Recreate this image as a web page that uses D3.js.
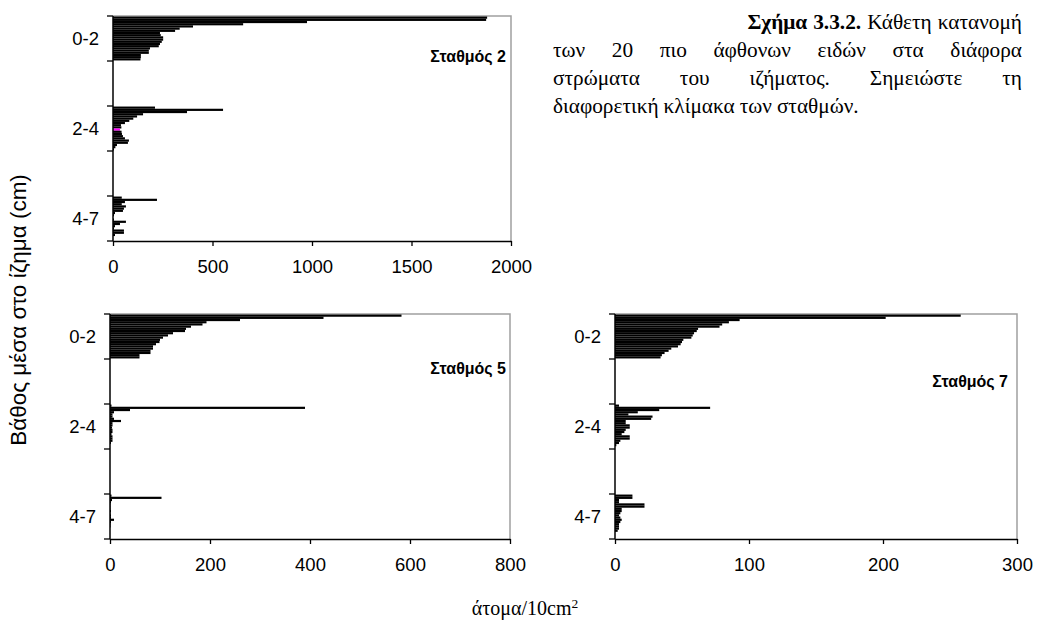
<!DOCTYPE html>
<html>
<head>
<meta charset="utf-8">
<script src="https://cdn.jsdelivr.net/npm/d3@7"></script>
<style>
  body { margin: 0; background: #fff; }
  svg { display: block; }
</style>
</head>
<body>
<svg id="chart" width="1037" height="624"></svg>
<script>
// Depth layers of the sediment (cm); empty slots separate the layers on the axis
const depthLabels = ["0-2", "2-4", "4-7"];
const depthSlots = ["0-2", "gapA", "2-4", "gapB", "4-7"];

// Abundance (individuals / 10 cm²) of the 20 most abundant species, same species order in every layer
// Σταθμός 2
const st2Layer02 = [1880, 1875, 975, 654, 402, 335, 312, 236, 240, 252, 252, 245, 236, 230, 186, 180, 180, 140, 140, 138];
const st2Layer24 = [211, 553, 372, 151, 121, 102, 82, 60, 40, 42, 35, 43, 45, 50, 60, 80, 75, 20, 12, 5];
const st2Layer47 = [44, 221, 60, 44, 65, 55, 50, 10, 5, 0, 5, 65, 35, 10, 5, 55, 55, 10, 0, 0];
const st2Ticks = [0, 500, 1000, 1500, 2000];

// Σταθμός 5
const st5Layer02 = [583, 427, 260, 193, 185, 162, 152, 150, 126, 116, 106, 100, 99, 92, 86, 86, 81, 81, 59, 59];
const st5Layer24 = [3, 390, 40, 8, 5, 5, 8, 22, 5, 5, 4, 5, 5, 3, 5, 5, 5, 2, 0, 0];
const st5Layer47 = [3, 103, 4, 2, 1, 1, 1, 2, 1, 2, 2, 8, 2, 1, 1, 0, 0, 0, 0, 0];
const st5Ticks = [0, 200, 400, 600, 800];

// Σταθμός 7
const st7Layer02 = [258, 202, 93, 85, 80, 78, 62, 61, 59, 58, 57, 51, 50, 49, 47, 42, 40, 37, 35, 34];
const st7Layer24 = [3, 71, 33, 17, 10, 28, 27, 8, 8, 11, 11, 8, 7, 5, 11, 11, 4, 3, 1, 0];
const st7Layer47 = [13, 13, 3, 3, 22, 22, 5, 5, 4, 3, 4, 5, 4, 3, 3, 3, 2, 0, 0, 0];
const st7Ticks = [0, 100, 200, 300];

const speciesIndex = d3.range(20);

const svg = d3.select("#chart");
const sans = "Arial, 'Liberation Sans', sans-serif";
const serif = "'Times New Roman', 'Liberation Serif', serif";

const panels = [
  { title: "Σταθμός 2", layers: [st2Layer02, st2Layer24, st2Layer47], ticks: st2Ticks,
    box: { x0: 113, x1: 511, y0: 16, y1: 241 }, titlePos: { x: 506, y: 62 },
    accent: { layer: 1, species: 10 } },
  { title: "Σταθμός 5", layers: [st5Layer02, st5Layer24, st5Layer47], ticks: st5Ticks,
    box: { x0: 110, x1: 510, y0: 314, y1: 539 }, titlePos: { x: 506, y: 374 } },
  { title: "Σταθμός 7", layers: [st7Layer02, st7Layer24, st7Layer47], ticks: st7Ticks,
    box: { x0: 615, x1: 1017, y0: 314, y1: 539 }, titlePos: { x: 1008, y: 387 } }
];

panels.forEach(p => {
  const g = svg.append("g");
  const x = d3.scaleLinear()
    .domain([0, d3.max(p.ticks)])
    .range([p.box.x0, p.box.x1]);
  const yOuter = d3.scaleBand()
    .domain(depthSlots)
    .range([p.box.y0, p.box.y1])
    .padding(0);
  const yInner = d3.scaleBand()
    .domain(speciesIndex)
    .range([0, yOuter.bandwidth()])
    .paddingInner(0)
    .paddingOuter(0.25);

  // plot frame (top and right edges)
  g.append("path")
    .attr("d", `M${p.box.x0},${p.box.y0}H${p.box.x1}V${p.box.y1}`)
    .attr("fill", "none")
    .attr("stroke", "#a0a0a0")
    .attr("stroke-width", 1.5);

  // bars
  depthLabels.forEach((depth, li) => {
    const values = p.layers[li];
    g.append("g")
      .selectAll("rect")
      .data(values)
      .join("rect")
      .attr("x", x(0))
      .attr("y", (d, i) => yOuter(depth) + yInner(i))
      .attr("width", d => x(d) - x(0))
      .attr("height", yInner.bandwidth())
      .attr("fill", (d, i) => (p.accent && p.accent.layer === li && p.accent.species === i) ? "#ff00ff" : "#000");
  });

  // x axis
  const xAxis = g.append("g")
    .attr("transform", `translate(0,${p.box.y1})`)
    .call(d3.axisBottom(x).tickValues(p.ticks).tickSize(5).tickSizeOuter(0).tickPadding(14).tickFormat(d3.format("d")));
  xAxis.select(".domain").attr("stroke", "#000").attr("stroke-width", 1.5);
  xAxis.selectAll(".tick line").attr("stroke", "#000").attr("stroke-width", 1.3);
  xAxis.selectAll(".tick text")
    .attr("fill", "#000")
    .style("font-family", sans)
    .style("font-size", "18.5px");

  // y axis: line, boundary ticks between slots, layer labels centred in their slot
  const yAxis = g.append("g");
  yAxis.append("line")
    .attr("x1", p.box.x0).attr("x2", p.box.x0)
    .attr("y1", p.box.y0).attr("y2", p.box.y1)
    .attr("stroke", "#000").attr("stroke-width", 1.5);
  const boundaries = depthSlots.map(s => yOuter(s)).concat([p.box.y1]);
  yAxis.selectAll("line.tick")
    .data(boundaries)
    .join("line")
    .attr("class", "tick")
    .attr("x1", p.box.x0 - 6).attr("x2", p.box.x0)
    .attr("y1", d => d).attr("y2", d => d)
    .attr("stroke", "#000").attr("stroke-width", 1.3);
  yAxis.selectAll("text")
    .data(depthLabels)
    .join("text")
    .attr("x", p.box.x0 - 14)
    .attr("y", d => yOuter(d) + yOuter.bandwidth() / 2)
    .attr("dy", "0.35em")
    .attr("text-anchor", "end")
    .style("font-family", sans)
    .style("font-size", "18.5px")
    .text(d => d);

  // station name
  g.append("text")
    .attr("x", p.titlePos.x)
    .attr("y", p.titlePos.y)
    .attr("text-anchor", "end")
    .style("font-family", sans)
    .style("font-size", "16px")
    .style("font-weight", "bold")
    .text(p.title);
});

// shared axis titles
svg.append("text")
  .attr("transform", "translate(26,310) rotate(-90)")
  .attr("text-anchor", "middle")
  .style("font-family", sans)
  .style("font-size", "22.5px")
  .text("Βάθος μέσα στο ίζημα (cm)");

const xTitle = svg.append("text")
  .attr("x", 525)
  .attr("y", 615)
  .attr("text-anchor", "middle")
  .style("font-family", serif)
  .style("font-size", "20px");
xTitle.append("tspan").text("άτομα/10cm");
xTitle.append("tspan").attr("dy", "-0.55em").style("font-size", "13.5px").text("2");

// figure caption, justified (first line right-aligned)
const captionLines = [
  { x0: null, x1: 1022, y: 29, space: 6,
    words: [["Σχήμα", true], ["3.3.2.", true], ["Κάθετη", false], ["κατανομή", false]] },
  { x0: 553, x1: 1022, y: 57,
    words: ["των", "20", "πιο", "άφθονων", "ειδών", "στα", "διάφορα"].map(w => [w, false]) },
  { x0: 553, x1: 1022, y: 85,
    words: ["στρώματα", "του", "ιζήματος.", "Σημειώστε", "τη"].map(w => [w, false]) },
  { x0: 553, x1: null, y: 113, space: 5,
    words: ["διαφορετική", "κλίμακα", "των", "σταθμών."].map(w => [w, false]) }
];
const cap = svg.append("g").style("font-family", serif).style("font-size", "21.3px").attr("fill", "#000");
captionLines.forEach(line => {
  const nodes = line.words.map(([w, bold]) =>
    cap.append("text").attr("y", line.y).style("font-weight", bold ? "bold" : "normal").text(w));
  const widths = nodes.map(n => n.node().getComputedTextLength());
  const total = d3.sum(widths);
  let space, start;
  if (line.x0 !== null && line.x1 !== null) {
    space = (line.x1 - line.x0 - total) / (nodes.length - 1);
    start = line.x0;
  } else if (line.x0 === null) {
    space = line.space;
    start = line.x1 - total - space * (nodes.length - 1);
  } else {
    space = line.space;
    start = line.x0;
  }
  let cx = start;
  nodes.forEach((n, i) => { n.attr("x", cx); cx += widths[i] + space; });
});
</script>
</body>
</html>
